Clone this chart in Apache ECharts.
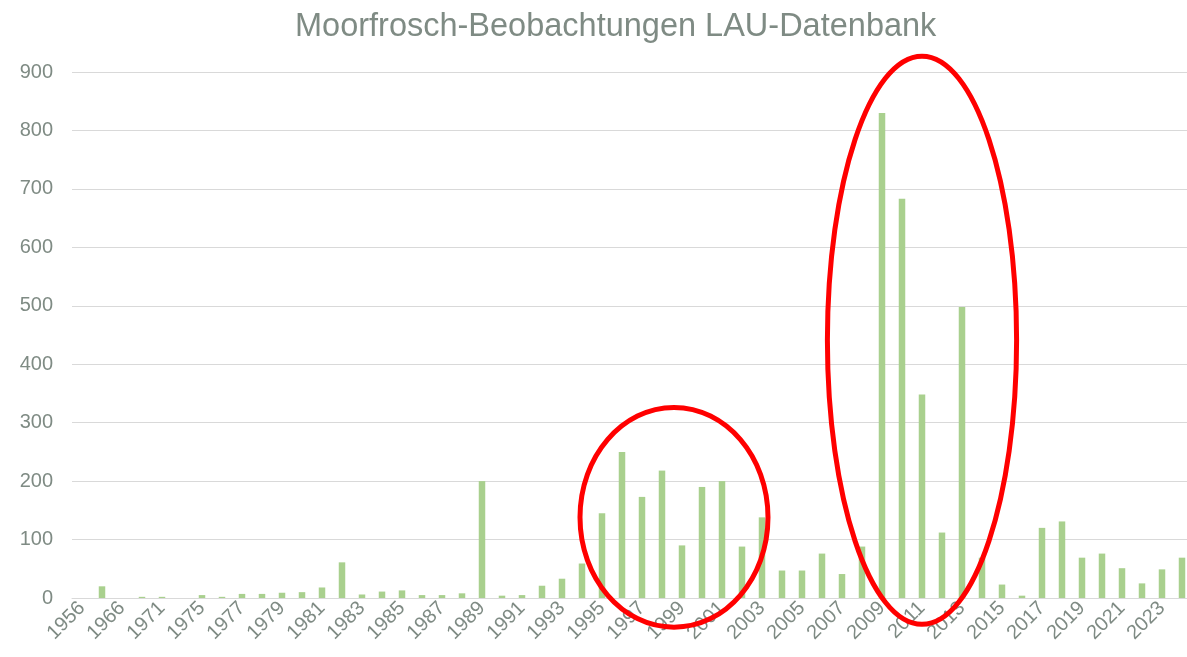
<!DOCTYPE html>
<html>
<head>
<meta charset="utf-8">
<script src="https://cdn.jsdelivr.net/npm/echarts@6/dist/echarts.min.js"></script>
<style>
    html, body { margin: 0; padding: 0; background: #fff; }
    #chart { width: 1187px; height: 657px; }
</style>
</head>
<body>
<div id="chart"></div>
<script>
// years with observations (labels show every other one)
const years = ['1956', '1962', '1966', '1969', '1971', '1973',
    '1975', '1976', '1977', '1978', '1979', '1980', '1981', '1982', '1983', '1984',
    '1985', '1986', '1987', '1988', '1989', '1990', '1991', '1992', '1993', '1994',
    '1995', '1996', '1997', '1998', '1999', '2000', '2001', '2002', '2003', '2004',
    '2005', '2006', '2007', '2008', '2009', '2010', '2011', '2012', '2013', '2014',
    '2015', '2016', '2017', '2018', '2019', '2020', '2021', '2022', '2023', '2024'];

const counts = [0, 20, 0, 2, 2, 0,
    5, 2, 7, 7, 9, 10, 18, 61, 6, 11,
    13, 5, 5, 8, 200, 4, 5, 21, 33, 59,
    145, 250, 173, 218, 90, 190, 200, 88, 138, 47,
    47, 76, 41, 88, 830, 683, 348, 112, 498, 69,
    23, 4, 120, 131, 69, 76, 51, 25, 49, 69];

const yTicks = [0, 900, 100]; // min, max, interval

// red annotation ellipses: [center index, center value, half width (categories), half height (value)]
const rings = [
    [29.6, 138, 4.7, 188],
    [42.0, 441, 4.73, 486]
];

const labelColor = '#7f8b84';

let myChart = echarts.init(document.getElementById('chart'));
myChart.setOption({
    animation: false,
    title: {
        text: 'Moorfrosch-Beobachtungen LAU-Datenbank',
        left: 290,
        top: 6,
        textStyle: {
            fontFamily: 'Liberation Sans',
            fontSize: 32.5,
            fontWeight: 'normal',
            color: labelColor
        }
    },
    grid: {
        left: 72,
        top: 72,
        width: 1120,
        height: 526,
        outerBoundsMode: 'none',
        containLabel: false
    },
    xAxis: {
        type: 'category',
        data: years,
        axisTick: { show: false },
        axisLine: { lineStyle: { color: '#d9d9d9', width: 1 } },
        axisLabel: {
            interval: 1,
            rotate: 45,
            margin: 7,
            fontFamily: 'Liberation Sans',
            fontSize: 20,
            color: labelColor
        }
    },
    yAxis: {
        type: 'value',
        min: yTicks[0],
        max: yTicks[1],
        interval: yTicks[2],
        axisLine: { show: false },
        axisTick: { show: false },
        splitLine: { lineStyle: { color: '#d9d9d9', width: 1 } },
        axisLabel: {
            margin: 19,
            fontFamily: 'Liberation Sans',
            fontSize: 20,
            color: labelColor
        }
    },
    series: [
        {
            type: 'bar',
            data: counts,
            barWidth: 6.5,
            itemStyle: { color: '#a9d08e' }
        }
    ]
});

// place the ellipses through the axes' own scales
const p0 = myChart.convertToPixel({ gridIndex: 0 }, [0, 0]);
const p1 = myChart.convertToPixel({ gridIndex: 0 }, [1, 100]);
const dx = p1[0] - p0[0];
const dy = (p0[1] - p1[1]) / 100;
myChart.setOption({
    graphic: rings.map(r => ({
        type: 'ellipse',
        z: 100,
        shape: {
            cx: p0[0] + r[0] * dx,
            cy: p0[1] - r[1] * dy,
            rx: r[2] * dx,
            ry: r[3] * dy
        },
        style: { fill: null, stroke: '#ff0000', lineWidth: 5 }
    }))
});
</script>
</body>
</html>
